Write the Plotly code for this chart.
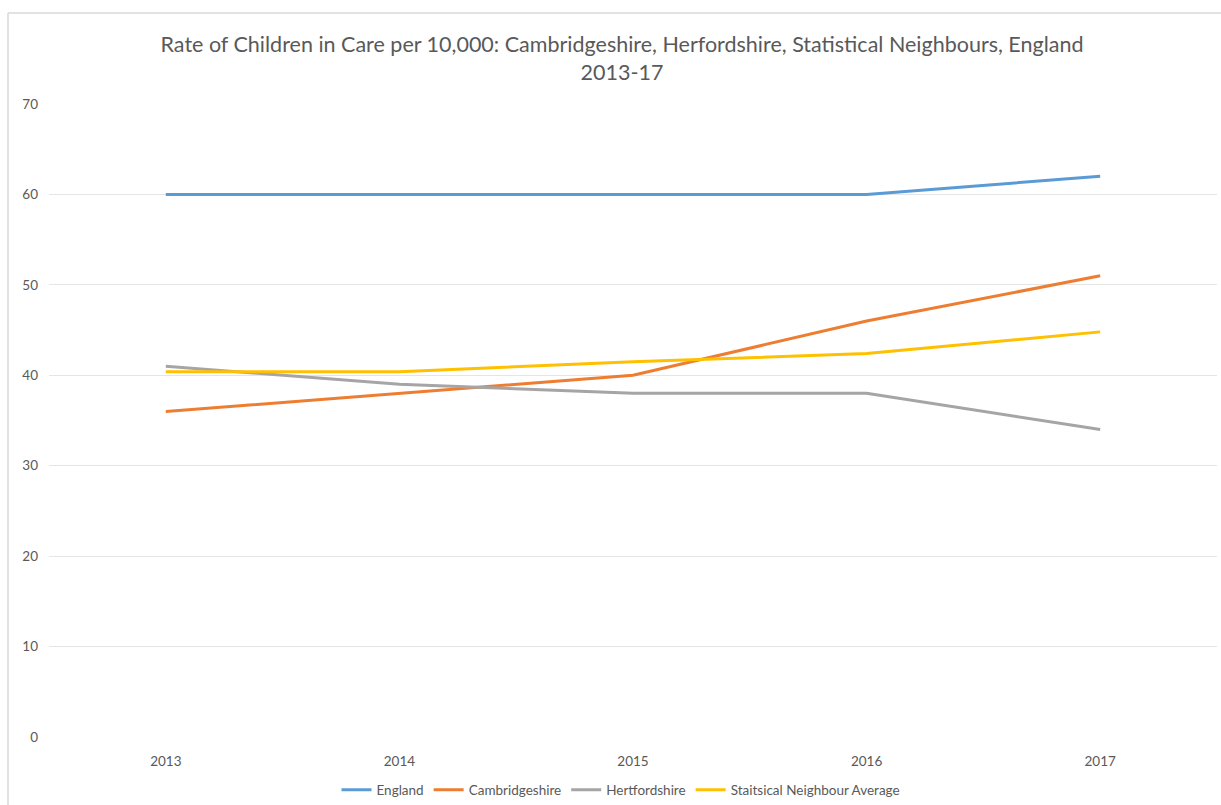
import plotly.graph_objects as go

years = ["2013", "2014", "2015", "2016", "2017"]
england = [60, 60, 60, 60, 62]
cambridgeshire = [36, 38, 40, 46, 51]
hertfordshire = [41, 39, 38, 38, 34]
stat_neighbour = [40.4, 40.4, 41.5, 42.4, 44.8]

series = [
    ("England", england, "#5B9BD5"),
    ("Cambridgeshire", cambridgeshire, "#ED7D31"),
    ("Hertfordshire", hertfordshire, "#A5A5A5"),
    ("Staitsical Neighbour Average", stat_neighbour, "#FFC000"),
]

fig = go.Figure()
for name, vals, col in series:
    fig.add_trace(go.Scatter(x=years, y=vals, name=name, mode="lines",
                             line=dict(color=col, width=3)))

FONT = "Lato, Open Sans, sans-serif"
T, B = 104, 68
H = 805 - T - B
fig.update_layout(
    width=1221, height=805,
    margin=dict(l=49, r=4, t=T, b=B, autoexpand=False),
    paper_bgcolor="white", plot_bgcolor="white",
    title=dict(
        text="Rate of Children in Care per 10,000: Cambridgeshire, Herfordshire, Statistical Neighbours, England<br>2013-17",
        x=622 / 1221, xref="container", xanchor="center", y=1 - 52 / 805, yref="container", yanchor="middle",
        font=dict(family=FONT, size=21.5, color="#595959"),
    ),
    font=dict(family=FONT, size=13.5, color="#595959"),
    showlegend=True,
    legend=dict(orientation="h", x=(621 - 49) / 1168, xanchor="center",
                y=1 - 790 / 805, yref="container", yanchor="middle",
                font=dict(family=FONT, size=13.5, color="#595959"),
                itemwidth=30, tracegroupgap=0),
    xaxis=dict(type="category", range=[-0.5, 4.5], showgrid=False, zeroline=False,
               showline=False, ticks="", ticklabelstandoff=14, automargin=False,
               tickfont=dict(size=13.5, color="#595959")),
    yaxis=dict(range=[0, 70], dtick=10, showgrid=True, gridcolor="#E5E5E5", gridwidth=1,
               zeroline=False, showline=False, ticks="", ticklabelstandoff=10, automargin=False,
               tickfont=dict(size=13.5, color="#595959")),
)

# chart border (Excel-style frame)
ytop = 1 + (T - 13) / H
xl = (8 - 49) / 1168
fig.add_shape(type="line", xref="paper", yref="paper",
              x0=xl, x1=1.2, y0=ytop, y1=ytop,
              line=dict(color="#D9D9D9", width=1.5))
fig.add_shape(type="line", xref="paper", yref="paper",
              x0=xl, x1=xl, y0=-0.2, y1=ytop,
              line=dict(color="#D9D9D9", width=1.5))

fig.write_html("out.html")
